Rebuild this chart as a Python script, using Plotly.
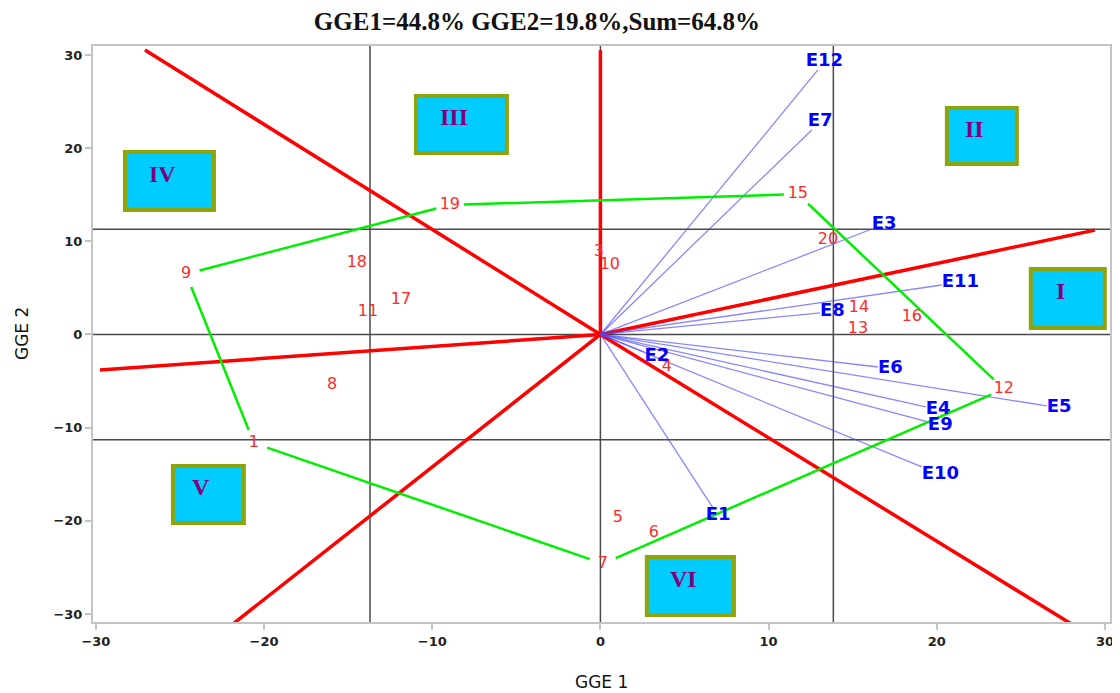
import numpy as np
import plotly.graph_objects as go

# ---------------- data ----------------
title_text = "GGE1=44.8% GGE2=19.8%,Sum=64.8%"

genotypes = [str(i) for i in range(1, 21)]
gge1_gen = [-20.6, 3.78, -0.09, 3.95, 1.04, 3.18, 0.15, -15.96, -24.64, 0.56,
            -13.82, 23.99, 15.31, 15.37, 11.74, 18.52, -11.86, -14.48, -8.95, 13.53]
gge2_gen = [-11.65, -2.31, 8.86, -3.49, -19.7, -21.3, -24.6, -5.42, 6.49, 7.46,
            2.41, -5.85, 0.59, 2.84, 15.06, 1.88, 3.70, 7.67, 13.9, 10.14]

environments = ["E1", "E2", "E3", "E4", "E5", "E6", "E7", "E8", "E9", "E10", "E11", "E12"]
gge1_env = [6.69, 2.62, 16.14, 19.35, 26.54, 16.5, 12.57, 13.05, 19.47, 19.11, 20.3, 12.93]
gge2_env = [-18.62, -1.88, 11.32, -7.78, -7.67, -3.49, 21.95, 2.31, -9.39, -14.22, 5.31, 28.39]

hull_order = ["15", "12", "7", "1", "9", "19"]

sector_ray_x = [0.0, -27.08, 29.4, -29.76, -22.15, 28.39]
sector_ray_y = [30.5, 30.53, 11.2, -3.81, -31.5, -31.5]

ref_h = [0.0, 11.3, -11.3]
ref_v = [0.0, -13.7, 13.85]

sector_names = ["I", "II", "III", "IV", "V", "VI"]

x_ticks = [-30, -20, -10, 0, 10, 20, 30]
y_ticks = [-30, -20, -10, 0, 10, 20, 30]

# ---------------- layout constants ----------------
W, H = 1120, 693
OFF = 8  # page body margin in the browser
PL, PR, PT, PB = 93, 1110, 46, 622   # plot-area edges in the picture
ML, MT = PL - OFF, PT - OFF
MR = W - (PR - OFF)
MB = H - (PB - OFF)
XR = [-30.17, 30.30]
YR = [-30.86, 30.96]
PW = PR - PL
PH = PB - PT
PXX = PW / (XR[1] - XR[0])
PXY = PH / (YR[1] - YR[0])

sector_boxes = [  # x0, x1, y0, y1 (decoration positions)
    (25.59, 29.99, 0.70, 7.03),
    (20.60, 24.76, 18.30, 24.31),
    (-10.97, -5.56, 19.48, 25.60),
    (-28.27, -22.98, 13.36, 19.59),
    (-25.42, -21.20, -20.23, -14.11),
    (2.76, 7.94, -30.11, -23.88),
]

fig = go.Figure()

# reference lines
for yv in ref_h:
    fig.add_shape(type="line", xref="paper", yref="y", x0=0, x1=1, y0=yv, y1=yv,
                  line=dict(color="#4a4a4a", width=1.5), layer="below")
for xv in ref_v:
    fig.add_shape(type="line", xref="x", yref="paper", x0=xv, x1=xv, y0=0, y1=1,
                  line=dict(color="#4a4a4a", width=1.5), layer="below")

# sector boxes
for (x0, x1, y0, y1), name in zip(sector_boxes, sector_names):
    fig.add_shape(type="rect", xref="x", yref="y", x0=x0, x1=x1, y0=y0, y1=y1,
                  fillcolor="#00ccff", line=dict(color="#8ea40a", width=4), layer="above")
    fig.add_annotation(x=(x0 + x1) / 2, y=(y0 + y1) / 2, xref="x", yref="y",
                       text=name, showarrow=False, xshift=-7, yshift=7,
                       font=dict(family="Liberation Serif", size=24, color="#800080", weight="bold"))

# sector rays (red)
rx, ry = [], []
for x, y in zip(sector_ray_x, sector_ray_y):
    rx += [0, x, None]
    ry += [0, y, None]
fig.add_trace(go.Scatter(x=rx, y=ry, mode="lines", line=dict(color="#ff0000", width=3.5),
                         hoverinfo="skip", showlegend=False))

# environment vectors (blue)
ex, ey = [], []
for x, y in zip(gge1_env, gge2_env):
    ex += [0, x, None]
    ey += [0, y, None]
fig.add_trace(go.Scatter(x=ex, y=ey, mode="lines",
                         line=dict(color="rgba(70,70,255,0.65)", width=1.3),
                         hoverinfo="skip", showlegend=False))

# polygon (green), broken around labels
gap = 14.0
idx = {g: i for i, g in enumerate(genotypes)}
px_, py_ = [], []
n = len(hull_order)
for k in range(n):
    a = idx[hull_order[k]]
    b = idx[hull_order[(k + 1) % n]]
    ax, ay = gge1_gen[a] * PXX, gge2_gen[a] * PXY
    bx, by = gge1_gen[b] * PXX, gge2_gen[b] * PXY
    dx, dy = bx - ax, by - ay
    L = np.hypot(dx, dy)
    ux, uy = dx / L, dy / L
    px_ += [(ax + gap * ux) / PXX, (bx - gap * ux) / PXX, None]
    py_ += [(ay + gap * uy) / PXY, (by - gap * uy) / PXY, None]
fig.add_trace(go.Scatter(x=px_, y=py_, mode="lines", line=dict(color="#00ee00", width=2.5),
                         hoverinfo="skip", showlegend=False))

# genotype labels
fig.add_trace(go.Scatter(x=gge1_gen, y=gge2_gen, mode="text", text=genotypes,
                         textposition="middle center",
                         textfont=dict(family="DejaVu Sans", size=16, color="#ff2a2a"),
                         hoverinfo="skip", showlegend=False))

# environment labels, offset outward from vector end
lx, ly = [], []
for name, x, y in zip(environments, gge1_env, gge2_env):
    vx, vy = x * PXX, y * PXY
    L = np.hypot(vx, vy)
    ux, uy = vx / L, vy / L
    hw, hh = 6.2 * len(name), 8.0
    t = min(hw / max(abs(ux), 1e-6), hh / max(abs(uy), 1e-6))
    lx.append(x + t * ux / PXX)
    ly.append(y + t * uy / PXY)
fig.add_trace(go.Scatter(x=lx, y=ly, mode="text", text=environments,
                         textposition="middle center",
                         textfont=dict(family="DejaVu Sans", size=18, color="#0000ff", weight="bold"),
                         hoverinfo="skip", showlegend=False))

# axis titles
fig.add_annotation(x=0.5, y=-(682 - PB) / PH, xref="paper", yref="paper",
                   text="GGE 1", showarrow=False, yanchor="middle",
                   font=dict(family="DejaVu Sans", size=17, color="#111111"))
fig.add_annotation(x=(22 - PL) / PW, y=0.5, xref="paper", yref="paper",
                   text="GGE 2", showarrow=False, textangle=-90, xanchor="center",
                   font=dict(family="DejaVu Sans", size=17, color="#111111"))

axis_common = dict(showgrid=False, zeroline=False, showline=True, mirror=True,
                   linecolor="#c4c4c4", linewidth=2, ticks="outside", ticklen=6,
                   tickwidth=2, tickcolor="#c4c4c4", automargin=False,
                   tickfont=dict(family="DejaVu Sans", size=13, color="#222222", weight="bold"))

fig.update_layout(
    width=W, height=H,
    margin=dict(l=ML, r=MR, t=MT, b=MB),
    paper_bgcolor="white", plot_bgcolor="white",
    title=dict(text=title_text, x=(537 - OFF) / W, xanchor="center",
               y=1 - (21 - OFF) / H, yanchor="middle",
               yref="container", xref="container",
               font=dict(family="Liberation Serif", size=25, color="#111111", weight="bold")),
    xaxis=dict(range=XR, tickvals=x_ticks, **axis_common),
    yaxis=dict(range=YR, tickvals=y_ticks, **axis_common),
    showlegend=False,
)

fig.write_html("out.html")
